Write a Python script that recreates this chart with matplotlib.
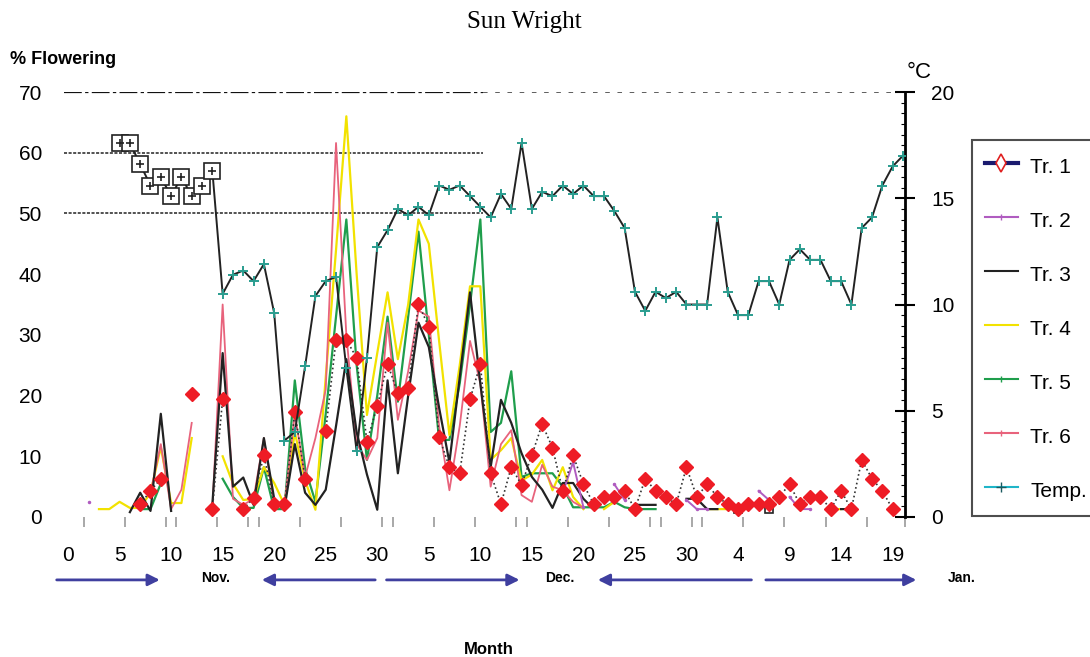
import matplotlib
matplotlib.use("Agg")
import matplotlib.pyplot as plt
import numpy as np
from matplotlib.lines import Line2D
import matplotlib.transforms as mtransforms

plt.rcParams['font.family'] = ['Liberation Sans', 'DejaVu Sans']

# ---------------- data ----------------
x_tick_days = list(range(0, 81, 5))
x_tick_labels = ['0', '5', '10', '15', '20', '25', '30', '5', '10', '15', '20',
                 '25', '30', '4', '9', '14', '19']
x_minor_marks = [1.5, 5.5, 9.5, 10.5, 14.5, 17.5, 18.5, 22.5, 26.5, 30.5, 31.5,
                 35.5, 39.5, 43.5, 44.5, 48.5, 52.5, 56.5, 57.5, 60.5, 61.5,
                 65.5, 69.5, 73.5, 77.5, 81.2]

tr1_days = [7, 8, 9, 12, 14, 15, 17, 18, 19, 20, 21, 22, 23, 25, 26, 27, 28, 29, 30,
            31, 32, 33, 34, 35, 36, 37, 38, 39, 40, 41, 42, 43, 44, 45, 46, 47, 48,
            49, 50, 51, 52, 53, 54, 55, 56, 57, 58, 59, 60, 61, 62, 63, 64, 65, 66,
            67, 68, 69, 70, 71, 72, 73, 74, 75, 76, 77, 78, 79, 80]
tr1_vals = [2.1, 4.3, 6.3, 20.3, 1.3, 19.4, 1.3, 3.1, 10.2, 2.1, 2.1, 17.3, 6.3, 14.2,
            29.2, 29.2, 26.2, 12.4, 18.3, 25.2, 20.4, 21.3, 35.1, 31.3, 13.2, 8.2, 7.2,
            19.4, 25.2, 7.2, 2.1, 8.2, 5.3, 10.2, 15.3, 11.4, 4.3, 10.2, 5.4, 2.1, 3.3,
            3.3, 4.3, 1.3, 6.3, 4.3, 3.3, 2.1, 8.2, 3.3, 5.4, 3.3, 2.1, 1.3, 2.1, 2.1,
            2.1, 3.3, 5.4, 2.1, 3.3, 3.3, 1.3, 4.3, 1.3, 9.4, 6.3, 4.3, 1.3]

tr2_days = [2, 48, 49, 50, 53, 54, 60, 61, 62, 67, 68, 70, 71, 72]
tr2_vals = [2.5, 4.0, 9.0, 1.6, 5.4, 2.8, 2.8, 1.3, 1.3, 4.3, 2.8, 3.3, 1.3, 1.3]

tr3_days = [6, 7, 8, 9, 10, 14, 15, 16, 17, 18, 19, 20, 21, 22, 23, 24, 25, 26, 27,
            28, 29, 30, 31, 32, 33, 34, 35, 36, 37, 38, 39, 40, 41, 42, 43, 44, 45,
            46, 47, 48, 49, 50, 51, 55, 56, 57, 60, 61, 62, 63, 75, 76]
tr3_vals = [0.8, 4, 1, 17, 1, 2, 27, 5, 6.5, 2, 13, 3, 1.5, 12, 4, 2, 4.5, 15, 26,
            14, 7, 1.2, 22.5, 7.2, 20, 32, 28, 18, 9, 23, 37, 22, 8.2, 19.3, 15.5,
            10.5, 6.6, 4.5, 1.5, 5.6, 5.6, 3, 1.3, 2, 2, 2, 3, 3, 1.3, 1.3, 1.3, 1.3]
tr3_box_days = [65, 68]
tr3_box_vals = [1.3, 1.3]

tr4_days = [3, 4, 5, 6, 7, 8, 9, 10, 11, 12, 15, 16, 17, 18, 19, 20, 21, 22, 23, 24,
            25, 26, 27, 28, 29, 30, 31, 32, 33, 34, 35, 36, 37, 38, 39, 40, 41, 42,
            43, 44, 45, 46, 47, 48, 49, 50, 52, 53, 62, 63, 64, 65, 74, 75]
tr4_vals = [1.3, 1.3, 2.5, 1.5, 1.5, 4, 11.5, 2.3, 2.3, 13, 10, 5.5, 2.8, 3, 8.2,
            5.6, 2, 14, 6, 1.2, 23, 44, 66, 40, 16.8, 27, 37, 26, 35, 49, 45, 29,
            13.5, 25, 38, 38, 9.4, 11, 13, 6, 7, 9.4, 4.4, 8.2, 3.3, 1.3, 1.3, 2.5,
            1.3, 1.3, 1.3, 1.3, 1.3, 1.3]

tr5_days = [7, 8, 9, 15, 16, 17, 18, 19, 20, 21, 22, 23, 24, 25, 26, 27, 28, 29, 30,
            31, 32, 33, 34, 35, 36, 37, 38, 39, 40, 41, 42, 43, 44, 45, 46, 47, 48,
            49, 50, 51, 52, 53, 54, 55, 56, 57]
tr5_vals = [1.3, 1.3, 5.5, 6.3, 3.3, 1.5, 1.5, 8.2, 1.3, 1.3, 22.5, 8, 2.5, 17, 33,
            49, 25, 9.4, 20, 33, 19, 33, 47, 30, 12.7, 12.7, 22, 35, 49, 14, 15.5,
            24, 6.6, 7.2, 7.2, 7.2, 5, 1.6, 1.6, 1.6, 1.6, 2.5, 1.6, 1.3, 1.3, 1.3]

tr6_days = [8, 9, 10, 11, 12, 14, 15, 16, 17, 18, 19, 20, 21, 22, 23, 24, 25, 26, 27,
            28, 29, 30, 31, 32, 33, 34, 35, 36, 37, 38, 39, 40, 41, 42, 43, 44, 45,
            46, 47, 48, 49, 50]
tr6_vals = [4, 12, 1.3, 4.5, 15.5, 1.3, 35, 3, 2, 3, 13, 2, 2, 17, 6.6, 13, 21, 61.6,
            30, 12, 9.4, 13, 32, 16, 24, 34, 33, 15, 4.4, 15, 29, 22, 5, 12, 14.3,
            3.6, 2.5, 8.6, 5, 4.4, 2.5, 1.5]

temp_days = list(range(5, 82))
temp_vals = [17.6, 17.6, 16.6, 15.6, 16.0, 15.1, 16.0, 15.1, 15.6, 16.3,
             10.5, 11.4, 11.6, 11.1, 11.9, 9.6, 3.6, 4.0, 7.1, 10.4,
             11.1, 11.3, 7.0, 3.1, 7.5, 12.7, 13.5, 14.5, 14.2, 14.6,
             14.2, 15.6, 15.4, 15.6, 15.1, 14.6, 14.1, 15.2, 14.5, 17.6,
             14.5, 15.3, 15.1, 15.6, 15.2, 15.6, 15.1, 15.1, 14.4, 13.6,
             10.6, 9.7, 10.6, 10.3, 10.6, 10.0, 10.0, 10.0, 14.1, 10.6,
             9.5, 9.5, 11.1, 11.1, 10.0, 12.1, 12.6, 12.1, 12.1, 11.1,
             11.1, 10.0, 13.6, 14.1, 15.6, 16.5, 17.0]
temp_box_count = 10  # first ten readings drawn with boxed markers

month_labels = ['Nov.', 'Dec.', 'Jan.']
month_label_days = [14.3, 47.7, 86.7]
arrow_spans = [(-1.1, 8.9), (29.8, 18.8), (30.9, 43.8), (66.3, 51.4), (67.7, 82.3)]


def gapped(days, vals):
    xs, ys = [], []
    for i, (d, v) in enumerate(zip(days, vals)):
        if i > 0 and d - days[i - 1] > 1:
            xs.append(np.nan)
            ys.append(np.nan)
        xs.append(d)
        ys.append(v)
    return np.array(xs, float), np.array(ys, float)


# ---------------- figure ----------------
W, H = 1090, 657
fig = plt.figure(figsize=(W / 100, H / 100), dpi=100)
ax = fig.add_axes([60 / W, 140 / H, 845 / W, 425 / H])
ax.set_xlim(-0.78, 81.18)
ax.set_ylim(0, 70)
for s in ['left', 'top', 'right', 'bottom']:
    ax.spines[s].set_visible(False)

# grid lines
ax.hlines(70, -0.4, 40.3, colors='#111111', lw=1.6, linestyles=(0, (8, 1.5, 1.5, 1.5)))
ax.hlines(70, 40.3, 81.1, colors='#333333', lw=1.1, linestyles=(0, (3, 5)))
ax.hlines([60, 50], -0.4, 40.3, colors='#222222', lw=1.1, linestyles=(0, (2, 1)))

# series
x, y = gapped(tr5_days, tr5_vals)
ax.plot(x, y, color='#1f9e4c', lw=1.6, zorder=3)
x, y = gapped(tr4_days, tr4_vals)
ax.plot(x, y, color='#f2e200', lw=1.6, zorder=3)
x, y = gapped(tr6_days, tr6_vals)
ax.plot(x, y, color='#e8637c', lw=1.3, zorder=3)
x, y = gapped(tr3_days, tr3_vals)
ax.plot(x, y, color='#222222', lw=1.6, zorder=4)
ax.plot(tr3_box_days, tr3_box_vals, ls='none', marker='s', ms=6, mfc='white',
        mec='#222222', mew=1.2, zorder=4)
x, y = gapped(tr2_days, tr2_vals)
ax.plot(x, y, color='#b05cc0', lw=1.4, marker='.', ms=3, zorder=4)
x, y = gapped(tr1_days, tr1_vals)
ax.plot(x, y, color='#333333', lw=1.2, ls=':', zorder=5)
ax.plot(tr1_days, tr1_vals, ls='none', marker='D', ms=7.5, mfc='#ee1c25',
        mec='#ee1c25', zorder=6, clip_on=False)

# axes ticks
ax.set_yticks([0, 10, 20, 30, 40, 50, 60, 70])
ax.tick_params(axis='y', length=0, pad=13, labelsize=15)
ax.set_xticks(x_tick_days)
ax.set_xticklabels(x_tick_labels)
ax.set_xticks(x_minor_marks, minor=True)
ax.tick_params(axis='x', which='major', length=0, pad=21, labelsize=15)
ax.tick_params(axis='x', which='minor', length=7, width=1.2, color='#999999')

# temperature axis
ax2 = ax.twinx()
ax2.set_ylim(0, 20)
for s in ['left', 'top', 'bottom']:
    ax2.spines[s].set_visible(False)
ax2.spines['right'].set_linewidth(2)
ax2.set_yticks([0, 5, 10, 15, 20])
ax2.set_yticks(np.arange(0, 20.01, 0.5), minor=True)
ax2.tick_params(axis='y', which='major', direction='inout', length=14, width=1.5,
                pad=12, labelsize=15)
ax2.tick_params(axis='y', which='minor', direction='in', length=3, width=0.8)

ax2.plot(temp_days, temp_vals, color='#222222', lw=1.4, zorder=3)
ax2.plot(temp_days[temp_box_count:], temp_vals[temp_box_count:], ls='none',
         marker='+', ms=7, mew=1.4, color='#2a9d8f', zorder=4)
ax2.plot(temp_days[:temp_box_count], temp_vals[:temp_box_count], ls='none',
         marker='s', ms=11, mfc='white', mec='#222222', mew=1.2, zorder=4)
ax2.plot(temp_days[:temp_box_count], temp_vals[:temp_box_count], ls='none',
         marker='+', ms=6, mew=1.2, color='#222222', zorder=5)

# texts
fig.text(524 / W, 1 - 22 / H, 'Sun Wright', ha='center', va='center',
         fontsize=18, family=['Liberation Serif', 'DejaVu Serif'])
fig.text(10 / W, 1 - 60 / H, '% Flowering', ha='left', va='center',
         fontsize=13, fontweight='bold')
fig.text(919 / W, 1 - 72 / H, '°C', ha='center', va='center', fontsize=16)
fig.text(489 / W, 1 - 650 / H, 'Month', ha='center', va='center', fontsize=12,
         fontweight='bold')

trans = mtransforms.blended_transform_factory(ax.transData, ax.transAxes)
for lab, d in zip(month_labels, month_label_days):
    ax.text(d, -0.143, lab, transform=trans, ha='center', va='center',
            fontsize=10, fontweight='bold', clip_on=False)
for a, b in arrow_spans:
    ax.annotate('', xy=(b, -0.148), xytext=(a, -0.148), xycoords=trans,
                textcoords=trans, annotation_clip=False,
                arrowprops=dict(arrowstyle='-|>,head_length=0.7,head_width=0.35',
                                color='#3f3f9f', lw=2, shrinkA=0, shrinkB=0))

# legend
handles = [
    Line2D([], [], color='#1a1a6e', lw=3, marker='d', ms=9, mfc='white',
           mec='#e02020', mew=1.2),
    Line2D([], [], color='#b05cc0', lw=1.5, marker='|', ms=5),
    Line2D([], [], color='#222222', lw=1.5),
    Line2D([], [], color='#f2e200', lw=1.5),
    Line2D([], [], color='#1f9e4c', lw=1.5, marker='|', ms=5),
    Line2D([], [], color='#e8637c', lw=1.5, marker='|', ms=5),
    Line2D([], [], color='#1fb5c8', lw=1.5, marker='+', ms=7, mec='#1a5a60'),
]
labels = ['Tr. 1', 'Tr. 2', 'Tr. 3', 'Tr. 4', 'Tr. 5', 'Tr. 6', 'Temp.']
leg = fig.legend(handles, labels, loc='upper left',
                 bbox_to_anchor=(972 / W, 1 - 140 / H), fontsize=15,
                 frameon=True, fancybox=False, edgecolor='#222222',
                 handlelength=1.6, handletextpad=0.6, labelspacing=1.31,
                 handleheight=1.6, borderpad=0.6, borderaxespad=0)
leg.get_frame().set_linewidth(1.5)

fig.savefig('out.png', dpi=100)
